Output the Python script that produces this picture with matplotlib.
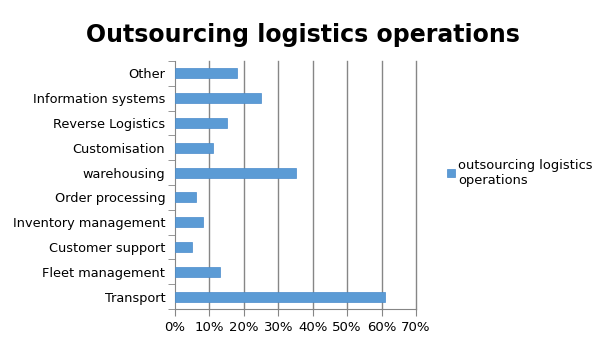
import numpy as np
import matplotlib
matplotlib.use("Agg")
import matplotlib.pyplot as plt
from matplotlib.ticker import PercentFormatter

categories = ["Transport", "Fleet management", "Customer support",
              "Inventory management", "Order processing", "warehousing",
              "Customisation", "Reverse Logistics", "Information systems", "Other"]
values = [61, 13, 5, 8, 6, 35, 11, 15, 25, 18]
series_name = "outsourcing logistics\noperations"
xticks = [0, 10, 20, 30, 40, 50, 60, 70]

fig = plt.figure(figsize=(6.05, 3.4), dpi=100)
ax = fig.add_axes([175 / 605, 1 - 309 / 340, 241 / 605, 248 / 340])

y = np.arange(len(categories))
ax.barh(y, values, height=0.4, color="#5B9BD5", edgecolor="#4A8BCB",
        linewidth=0.5, label=series_name, zorder=3)

ax.set_xlim(0, 70)
ax.set_ylim(-0.5, len(categories) - 0.5)
ax.set_xticks(xticks)
ax.xaxis.set_major_formatter(PercentFormatter(decimals=0))
ax.set_yticks(y)
ax.set_yticklabels(categories)
ax.set_yticks(np.arange(-0.5, len(categories)), minor=True)

# vertical gridlines, the last one sits on the right edge
for t in xticks[1:]:
    ax.axvline(t, color="#868686", linewidth=1, zorder=0, clip_on=False)
for s in ["top", "right"]:
    ax.spines[s].set_visible(False)
for s in ["left", "bottom"]:
    ax.spines[s].set_color("#868686")

ax.tick_params(axis="y", which="major", length=0, pad=7, labelsize=9.3)
ax.tick_params(axis="y", which="minor", length=5, color="#868686")
ax.tick_params(axis="x", length=5, color="#868686", labelsize=9.5)

fig.text(0.5, 0.898, "Outsourcing logistics operations", ha="center",
         va="center", fontsize=17, fontweight="bold")

ax.legend(loc="center left", bbox_to_anchor=(1.08, 0.55), frameon=False,
          fontsize=9.4, handlelength=0.6, handleheight=0.6, handletextpad=0.25,
          labelspacing=0.2)

fig.savefig("out.png", dpi=100)
